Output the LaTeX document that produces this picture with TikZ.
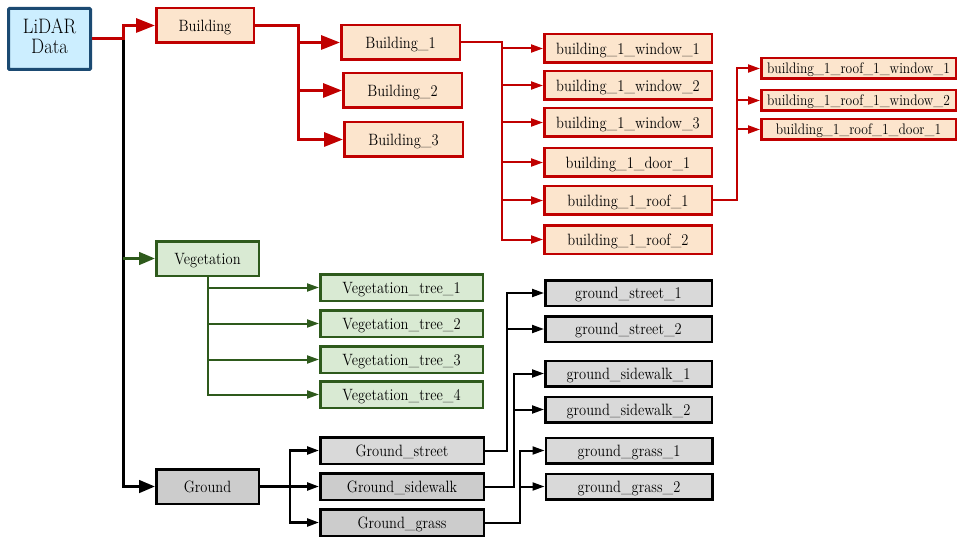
\documentclass[tikz,border=0pt]{standalone}
\usetikzlibrary{arrows.meta,calc}
\definecolor{lblue}{HTML}{CCEEFF}
\definecolor{dblue}{HTML}{1B4A72}
\definecolor{peach}{HTML}{FCE5CD}
\definecolor{bred}{HTML}{C00000}
\definecolor{lgreen}{HTML}{D9EAD3}
\definecolor{dgreen}{HTML}{2E5A1C}
\definecolor{gdark}{HTML}{CCCCCC}
\definecolor{glight}{HTML}{D9D9D9}
\newcommand{\vtxt}[1]{\scalebox{1}[1.13]{#1}}
\begin{document}
\begin{tikzpicture}[x=1pt,y=-1pt,
  box/.style={draw, rectangle, inner sep=0pt, line width=2.5pt,
    font=\fontsize{14.5}{17}\selectfont},
  bluebox/.style={box, fill=lblue, draw=dblue, line width=3pt,
    rounded corners=1pt, font=\fontsize{18.5}{21}\selectfont},
  redbox/.style={box, fill=peach, draw=bred, text depth=0pt},
  smallred/.style={redbox, font=\fontsize{13.5}{16}\selectfont},
  greenbox/.style={box, fill=lgreen, draw=dgreen, text depth=0pt},
  darkgray/.style={box, fill=gdark, draw=black, text depth=0pt},
  lightgray/.style={box, fill=glight, draw=black, text depth=0pt},
  bigtip/.style={-{Triangle[length=19pt,width=14pt]}},
  midtip/.style={-{Triangle[length=16pt,width=12.5pt]}},
  smalltip/.style={-{Triangle[length=12pt,width=8pt]}},
  redA/.style={draw=bred, line width=3pt},
  redB/.style={draw=bred, line width=2pt},
  greenB/.style={draw=dgreen, line width=2pt},
  blackA/.style={draw=black, line width=3pt},
  blackB/.style={draw=black, line width=2.5pt},
  blackC/.style={draw=black, line width=2pt}
]
\useasboundingbox (0,0) rectangle (965,537);

% root
\node[bluebox, minimum width=82pt, minimum height=61pt] (lidar) at (49.5,39)
  {\vtxt{\begin{tabular}{@{}c@{}}LiDAR\\[-3pt]Data\end{tabular}}};

% level 1
\node[redbox, minimum width=97.5pt, minimum height=34.5pt] (bld) at (205,25.5) {\vtxt{Building}};
\node[greenbox, minimum width=102.5pt, minimum height=34.5pt] (veg) at (207.5,258.5) {\vtxt{Vegetation}};
\node[darkgray, minimum width=102.5pt, minimum height=34.5pt] (gnd) at (207.5,486.5) {\vtxt{Ground}};

% buildings
\node[redbox, minimum width=118.5pt, minimum height=34.5pt] (b1) at (400.5,42.5) {\vtxt{Building\_1}};
\node[redbox, minimum width=118.5pt, minimum height=34.5pt] (b2) at (402.5,90.5) {\vtxt{Building\_2}};
\node[redbox, minimum width=118.5pt, minimum height=34.5pt] (b3) at (403.5,139.5) {\vtxt{Building\_3}};

% building_1 children
\tikzset{bc/.style={redbox, minimum width=167.5pt, minimum height=28.5pt}}
\node[bc] (w1) at (628,48.5) {\vtxt{building\_1\_window\_1}};
\node[bc] (w2) at (628,85.5) {\vtxt{building\_1\_window\_2}};
\node[bc] (w3) at (628,122.5) {\vtxt{building\_1\_window\_3}};
\node[bc] (d1) at (628,162.5) {\vtxt{building\_1\_door\_1}};
\node[bc] (r1) at (628,200.5) {\vtxt{building\_1\_roof\_1}};
\node[bc] (r2) at (628,239.5) {\vtxt{building\_1\_roof\_2}};

% roof_1 children
\tikzset{rc/.style={smallred, minimum width=194.5pt, minimum height=20.5pt}}
\node[rc] (rw1) at (858.5,68.5) {\vtxt{building\_1\_roof\_1\_window\_1}};
\node[rc] (rw2) at (858.5,100.5) {\vtxt{building\_1\_roof\_1\_window\_2}};
\node[rc] (rd1) at (858.5,129.5) {\vtxt{building\_1\_roof\_1\_door\_1}};

% vegetation children
\tikzset{vc/.style={greenbox, minimum width=162.5pt, minimum height=26.5pt}}
\node[vc] (t1) at (401.5,287.5) {\vtxt{Vegetation\_tree\_1}};
\node[vc] (t2) at (401.5,323.5) {\vtxt{Vegetation\_tree\_2}};
\node[vc] (t3) at (401.5,359.5) {\vtxt{Vegetation\_tree\_3}};
\node[vc] (t4) at (401.5,394.5) {\vtxt{Vegetation\_tree\_4}};

% ground children
\node[lightgray, minimum width=163.5pt, minimum height=26.5pt] (gs) at (402,450.5) {\vtxt{Ground\_street}};
\node[darkgray, minimum width=163.5pt, minimum height=26.5pt] (gw) at (402,486.5) {\vtxt{Ground\_sidewalk}};
\node[darkgray, minimum width=163.5pt, minimum height=26.5pt] (gg) at (402,522.5) {\vtxt{Ground\_grass}};

% ground grandchildren
\tikzset{gc/.style={lightgray, minimum width=166.5pt, minimum height=25.5pt}}
\node[gc] (s1) at (628.5,293) {\vtxt{ground\_street\_1}};
\node[gc] (s2) at (628.5,329) {\vtxt{ground\_street\_2}};
\node[gc] (k1) at (628.5,373.5) {\vtxt{ground\_sidewalk\_1}};
\node[gc] (k2) at (628.5,409.5) {\vtxt{ground\_sidewalk\_2}};
\node[gc] (g1) at (629,450.5) {\vtxt{ground\_grass\_1}};
\node[gc] (g2) at (629,486.5) {\vtxt{ground\_grass\_2}};

% connectors from root
\coordinate (j1) at (123,39);
\draw[blackA, midtip] (j1) |- (gnd.west);
\draw[greenB, line width=3pt, midtip] (j1 |- veg.west) -- (veg.west);
\draw[redA, bigtip] (lidar.east) -- (j1) |- (bld.west);

% building -> building_i
\foreach \t in {b3,b2,b1}
  \draw[redA, bigtip] (bld.east) -- ++(43,0) |- (\t.west);

% building_1 -> children
\foreach \t in {r2,r1,d1,w3,w2,w1}
  \draw[redB, smalltip] (b1.east) -- ++(41,0) |- (\t.west);

% roof_1 -> children
\foreach \t in {rd1,rw2,rw1}
  \draw[redB, smalltip] (r1.east) -- ++(24,0) |- (\t.west);

% vegetation -> trees
\foreach \t in {t4,t3,t2,t1}
  \draw[greenB, smalltip] (veg.south) |- (\t.west);

% ground -> children
\foreach \t in {gs,gw,gg}
  \draw[blackB, smalltip] (gnd.east) -- ++(30,0) |- (\t.west);

% ground children -> grandchildren
\foreach \t in {s1,s2}
  \draw[blackC, smalltip] (gs.east) -- ++(22,0) |- (\t.west);
\foreach \t in {k1,k2}
  \draw[blackC, smalltip] (gw.east) -- ++(29,0) |- (\t.west);
\foreach \t in {g1,g2}
  \draw[blackC, smalltip] (gg.east) -- ++(35,0) |- (\t.west);
\end{tikzpicture}
\end{document}
